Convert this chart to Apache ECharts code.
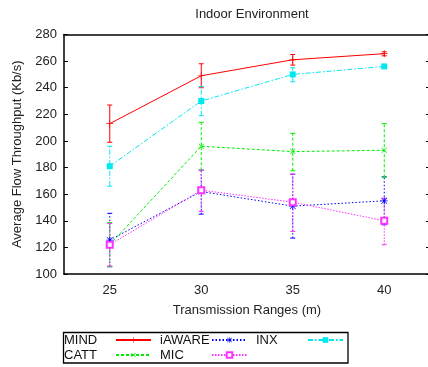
<!DOCTYPE html>
<html>
<head>
<meta charset="utf-8">
<script src="https://cdn.jsdelivr.net/npm/echarts@6/dist/echarts.min.js"></script>
<style>
  html, body { margin: 0; padding: 0; background: #fff; }
  #main { width: 428px; height: 367px; }
</style>
</head>
<body>
<div id="main"></div>
<script>
// x categories (transmission range, m)
const categories = ['25', '30', '35', '40'];
const yTicks = [100, 280, 20]; // min, max, step

// mean throughput + error bar ends
const mindVal = [213, 249, 261, 265.6];
const mindLow = [199, 240, 257, 264];
const mindHigh = [227, 258, 265, 267];

const iawareVal = [125.5, 162, 151, 155];
const iawareLow = [105.5, 145, 127, 137];
const iawareHigh = [145.6, 178, 175, 173];

const inxVal = [181, 230, 250, 256];
const inxLow = [166, 219, 244.5, 255];
const inxHigh = [196, 241, 255, 257];

const cattVal = [122, 196, 192, 193];
const cattLow = [105.5, 178, 177.6, 172.7];
const cattHigh = [138.6, 214, 205.7, 213];

const micVal = [122, 163, 154, 140];
const micLow = [106, 147, 132, 122];
const micHigh = [138, 178, 175, 157];

const FONT = 'Liberation Sans', FS = 13;

const PLUS = 'path://M0,4.5H10V5.5H0ZM4.5,0H5.5V10H4.5Z';
const STAR = 'path://M0,4.5H10V5.5H0ZM4.5,0H5.5V10H4.5Z' +
    'M0.6,1.3L1.3,0.6L9.4,8.7L8.7,9.4ZM8.7,0.6L9.4,1.3L1.3,9.4L0.6,8.7Z';

const lines = [
    { name: 'MIND', val: mindVal, low: mindLow, high: mindHigh, color: '#ff0000', dash: 'solid', symbol: PLUS, size: 7, rot: 0 },
    { name: 'iAWARE', val: iawareVal, low: iawareLow, high: iawareHigh, color: '#0000ff', dash: [1.5, 2], symbol: STAR, size: 7, rot: 0 },
    { name: 'INX', val: inxVal, low: inxLow, high: inxHigh, color: '#00e8f0', dash: [5, 2, 1.5, 2], symbol: 'rect', size: 6, rot: 0 },
    { name: 'CATT', val: cattVal, low: cattLow, high: cattHigh, color: '#00ee00', dash: [3, 2], symbol: PLUS, size: 7, rot: 45 },
    { name: 'MIC', val: micVal, low: micLow, high: micHigh, color: '#ff33ff', dash: [1.5, 1.5], symbol: 'emptyRect', size: 6, rot: 0 }
];

const txt = { fontFamily: FONT, fontSize: FS, color: '#222' };

const chart = echarts.init(document.getElementById('main'), null, { renderer: 'canvas' });

const series = [];
lines.forEach(function (s) {
    // error bars
    series.push({
        type: 'custom',
        silent: true,
        z: 1,
        data: s.val.map(function (v, i) { return [i, s.low[i], s.high[i]]; }),
        encode: { x: 0, y: [1, 2] },
        renderItem: function (params, api) {
            const lo = api.coord([api.value(0), api.value(1)]);
            const hi = api.coord([api.value(0), api.value(2)]);
            const w = 2.5;
            const st = { stroke: s.color, lineWidth: 1, lineDash: s.dash === 'solid' ? null : s.dash };
            return {
                type: 'group',
                children: [
                    { type: 'line', shape: { x1: lo[0], y1: lo[1], x2: hi[0], y2: hi[1] }, style: st },
                    { type: 'line', shape: { x1: lo[0] - w, y1: lo[1], x2: lo[0] + w, y2: lo[1] }, style: { stroke: s.color, lineWidth: 1 } },
                    { type: 'line', shape: { x1: hi[0] - w, y1: hi[1], x2: hi[0] + w, y2: hi[1] }, style: { stroke: s.color, lineWidth: 1 } }
                ]
            };
        }
    });
    series.push({
        name: s.name,
        type: 'line',
        z: 3,
        data: s.val,
        symbol: s.symbol,
        symbolSize: s.size,
        symbolRotate: s.rot,
        showAllSymbol: true,
        animation: false,
        lineStyle: { color: s.color, width: 1, type: s.dash },
        itemStyle: { color: s.color, borderColor: s.color, borderWidth: s.symbol === 'emptyRect' ? 1.2 : 0 }
    });
});

function legendRow(names, top) {
    return {
        data: names,
        left: 64,
        top: top,
        padding: 0,
        itemGap: 8,
        itemWidth: 35,
        itemHeight: 7,
        align: 'right',
        selectedMode: false,
        formatter: '{a|{name}}',
        textStyle: {
            fontFamily: FONT, fontSize: FS, color: '#111',
            rich: { a: { width: 47, align: 'left', fontFamily: FONT, fontSize: FS, lineHeight: 15 } }
        }
    };
}

const option = {
    animation: false,
    backgroundColor: '#fff',
    title: {
        text: 'Indoor Environment',
        left: 247,
        top: 3,
        textAlign: 'center',
        textStyle: { fontFamily: FONT, fontSize: FS, fontWeight: 'normal', color: '#222' }
    },
    legend: [
        legendRow(['MIND', 'iAWARE', 'INX'], 333.5),
        legendRow(['CATT', 'MIC'], 348.5)
    ],
    graphic: [{
        type: 'rect',
        shape: { x: 63.5, y: 332.5, width: 284.5, height: 30.5 },
        style: { fill: 'none', stroke: '#000', lineWidth: 1.3 },
        silent: true
    }],
    grid: { left: 64, right: -2, top: 34.5, bottom: 93, containLabel: false, outerBoundsMode: 'none' },
    xAxis: [{
        type: 'category',
        data: categories,
        boundaryGap: true,
        name: 'Transmission Ranges (m)',
        nameLocation: 'middle',
        nameGap: 30,
        nameTextStyle: txt,
        axisLine: { lineStyle: { color: '#000', width: 1.5 } },
        axisTick: { inside: true, alignWithLabel: true, length: 4, lineStyle: { color: '#000' } },
        axisLabel: Object.assign({ margin: 10 }, txt),
        splitLine: { show: false }
    }, {
        type: 'category',
        data: categories,
        position: 'top',
        boundaryGap: true,
        axisLine: { lineStyle: { color: '#000', width: 1.5 } },
        axisTick: { inside: true, alignWithLabel: true, length: 4, lineStyle: { color: '#000' } },
        axisLabel: { show: false },
        splitLine: { show: false }
    }],
    yAxis: [{
        type: 'value',
        min: yTicks[0],
        max: yTicks[1],
        interval: yTicks[2],
        name: 'Average Flow Throughput (Kb/s)',
        nameLocation: 'middle',
        nameGap: 40,
        nameTextStyle: txt,
        axisLine: { show: true, lineStyle: { color: '#000', width: 1.5 } },
        axisTick: { show: true, inside: true, length: 4, lineStyle: { color: '#000' } },
        axisLabel: Object.assign({ margin: 7 }, txt),
        splitLine: { show: false }
    }, {
        type: 'value',
        position: 'right',
        min: yTicks[0],
        max: yTicks[1],
        interval: yTicks[2],
        axisLine: { show: true, lineStyle: { color: '#000', width: 1.5 } },
        axisTick: { show: true, inside: true, length: 4, lineStyle: { color: '#000' } },
        axisLabel: { show: false },
        splitLine: { show: false }
    }],
    series: series
};

chart.setOption(option);
</script>
</body>
</html>
